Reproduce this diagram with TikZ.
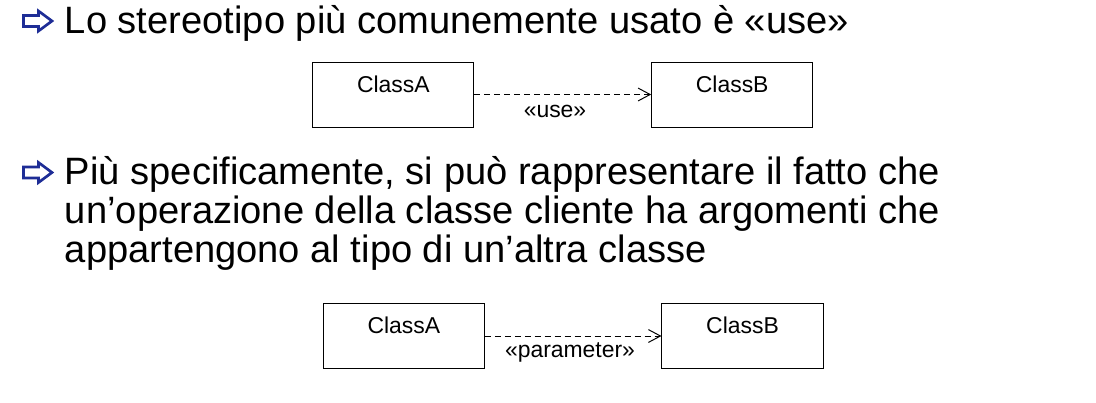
\documentclass[tikz,border=0pt]{standalone}
\usepackage{fontspec}
\setmainfont{Liberation Sans}
\usetikzlibrary{arrows.meta}

\definecolor{bulletblue}{RGB}{30,45,150}

\tikzset{
	slidetext/.style={anchor=base west,inner sep=0pt,align=left,
		font=\fontsize{27.1pt}{27.4pt}\selectfont},
	classbox/.style={draw,line width=0.7pt,inner sep=0pt,
		minimum width=4.025cm,text height=0.75cm,text depth=0.875cm,
		font=\fontsize{16.3pt}{19pt}\selectfont},
	stereo/.style={anchor=base,inner sep=0pt,font=\fontsize{16.3pt}{19pt}\selectfont},
	dependency/.style={line width=0.7pt,dash pattern=on 4.3pt off 2.8pt,
		-{Straight Barb[length=3mm,width=3.2mm]}},
	bulletarrow/.pic={
		\draw[bulletblue,line width=1.9pt,fill=white,line join=miter]
		(-14,-5.5) -- (1,-5.5) -- (1,-10) -- (14.5,0) -- (1,10) -- (1,5.5) -- (-14,5.5) -- cycle;
	}
}

\begin{document}
\begin{tikzpicture}[x=0.025cm,y=-0.025cm]
	\useasboundingbox (0,0) rectangle (1096,402);

	% first point
	\pic at (37.5,21) {bulletarrow};
	\node[slidetext] (t1) at (64.7,33.3) {Lo stereotipo più comunemente usato è «use»};

	\node[classbox] (a1) at (393.3,94.5) {ClassA};
	\node[classbox] (b1) at (732.2,94.5) {ClassB};
	\draw[dependency] (a1.east) -- (b1.west);
	\node[stereo] (s1) at (555,117) {«use»};

	% second point (node base = last line)
	\pic at (37.5,172.5) {bulletarrow};
	\node[slidetext] (t2) at (64.7,262) {Più specificamente, si può rappresentare il fatto che\\
		un’operazione della classe cliente ha argomenti che\\
		appartengono al tipo di un’altra classe};

	\node[classbox] (a2) at (403.8,336) {ClassA};
	\node[classbox] (b2) at (742.5,336) {ClassB};
	\draw[dependency] (a2.east) -- (b2.west);
	\node[stereo] (s2) at (570,357) {«parameter»};

\end{tikzpicture}
\end{document}
